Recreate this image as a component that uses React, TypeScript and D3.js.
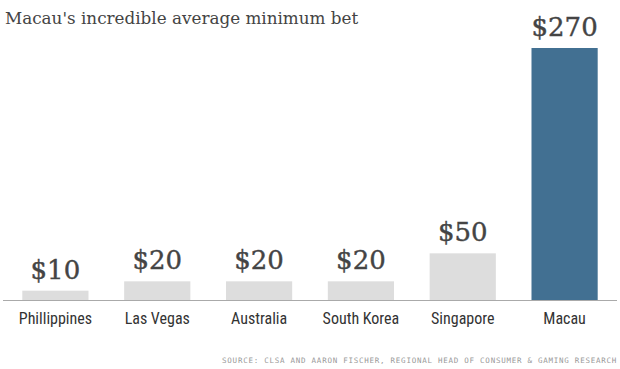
import React from "react";
import * as d3 from "d3";

const categories = ["Phillippines", "Las Vegas", "Australia", "South Korea", "Singapore", "Macau"];
const values = [10, 20, 20, 20, 50, 270];
const valueLabels = ["$10", "$20", "$20", "$20", "$50", "$270"];
const highlight = ["Macau"];

const W = 620;
const H = 369;

export default function App() {
  const x = d3.scaleBand<string>().domain(categories).range([5, 615]).paddingInner(0.35).paddingOuter(0.17);
  const baseline = 300;
  const y = d3.scaleLinear().domain([0, 270]).range([baseline, 48]);
  return (
    <svg width={W} height={H} style={{ position: "absolute", left: 0, top: 0, background: "#fff" }}>
      <text x={5} y={24} fontFamily="'DejaVu Serif', serif" fontSize={16.8} fill="#444">
        Macau's incredible average minimum bet
      </text>
      {categories.map((c, i) => (
        <g key={c}>
          <rect
            x={x(c)}
            y={y(values[i])}
            width={x.bandwidth()}
            height={baseline - y(values[i])}
            fill={highlight.includes(c) ? "#427092" : "#dddddd"}
          />
          <text
            x={(x(c) as number) + x.bandwidth() / 2}
            y={y(values[i]) - 12}
            textAnchor="middle"
            fontFamily="'DejaVu Serif', serif"
            fontSize={26}
            fill="#444"
            stroke="#444"
            strokeWidth={0.4}
          >
            {valueLabels[i]}
          </text>
          <text
            x={(x(c) as number) + x.bandwidth() / 2}
            y={324}
            textAnchor="middle"
            fontFamily="'Liberation Sans Narrow', 'Roboto Condensed', 'Liberation Sans', sans-serif"
            fontStretch="condensed"
            fontSize={16}
            fill="#333"
          >
            {c}
          </text>
        </g>
      ))}
      <line x1={3} x2={617} y1={baseline + 0.5} y2={baseline + 0.5} stroke="#aaa" strokeWidth={1} />
      <text
        x={617}
        y={363}
        textAnchor="end"
        fontFamily="'DejaVu Sans Mono', monospace"
        fontSize={7.5}
        letterSpacing={0.75}
        fill="#999"
      >
        SOURCE: CLSA AND AARON FISCHER, REGIONAL HEAD OF CONSUMER &amp; GAMING RESEARCH
      </text>
    </svg>
  );
}
